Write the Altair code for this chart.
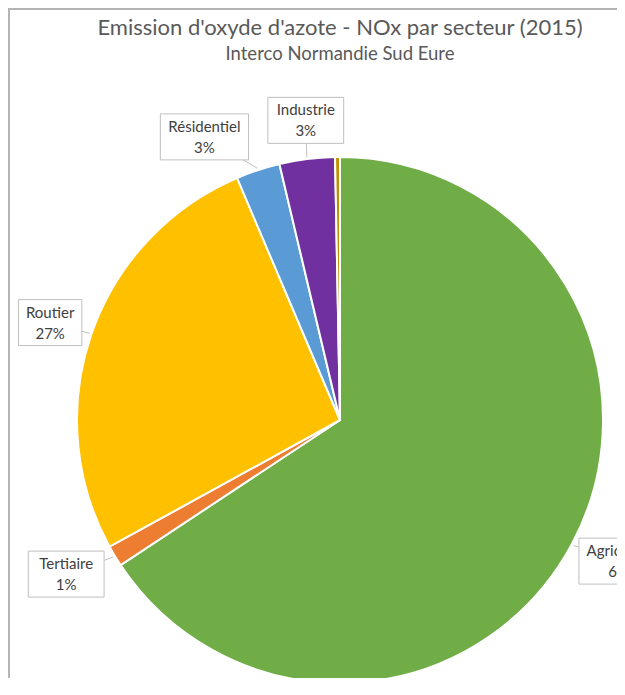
import altair as alt
import pandas as pd

# Data
secteurs = ["Agriculture", "Tertiaire", "Routier", "Résidentiel", "Industrie", "Autres transports"]
valeurs = [65.7, 1.3, 26.6, 2.7, 3.4, 0.3]
couleurs = ["#70AD47", "#ED7D31", "#FFC000", "#5B9BD5", "#7030A0", "#BF9000"]

titre = "Emission d'oxyde d'azote - NOx par secteur (2015)"
sous_titre = "Interco Normandie Sud Eure"

df = pd.DataFrame({"secteur": secteurs, "valeur": valeurs, "ordre": list(range(len(secteurs)))})

W, H = 609, 670
CX, CY, R = 332, 412, 263
FONT = "Lato"

base = alt.Chart(df)

pie = base.mark_arc(outerRadius=R, stroke="white", strokeWidth=2).encode(
    theta=alt.Theta("valeur:Q", stack=True),
    color=alt.Color("secteur:N", scale=alt.Scale(domain=secteurs, range=couleurs), legend=None),
    order=alt.Order("ordre:Q"),
    x=alt.value(CX),
    y=alt.value(CY),
)

xs = alt.Scale(domain=[0, W], nice=False, zero=False)
ys = alt.Scale(domain=[0, H], nice=False, zero=False, reverse=True)

lab = (
    base.transform_joinaggregate(total="sum(valeur)")
    .transform_window(cum="sum(valeur)", sort=[alt.SortField("ordre")], frame=[None, 0])
    .transform_calculate(
        a="(datum.cum - datum.valeur/2)/datum.total*2*PI",
        txt="datum.secteur + '\\n' + round(datum.valeur) + '%'",
        w="max(length(datum.secteur), 3)*6.2 + 20",
        h="46",
    )
    .transform_calculate(
        lx=f"{CX} + ({R}+12)*sin(datum.a) + datum.w/2*sin(datum.a) + (datum.secteur=='Résidentiel' ? -36 : 0) + (datum.secteur=='Industrie' ? 5 : 0) + (datum.secteur=='Tertiaire' ? -6 : 0) + (datum.secteur=='Agriculture' ? 2 : 0)",
        ly=f"{CY} - ({R}+12)*cos(datum.a) - datum.h/2*cos(datum.a) + (datum.secteur=='Industrie' ? -4 : 0)",
        ex=f"{CX} + ({R}+2)*sin(datum.a)",
        ey=f"{CY} - ({R}+2)*cos(datum.a)",
    )
    .transform_calculate(
        x1="datum.lx - datum.w/2", x2="datum.lx + datum.w/2",
        y1="datum.ly - datum.h/2", y2="datum.ly + datum.h/2",
    )
    .transform_filter("datum.valeur >= 0.5")
)

leader = lab.mark_rule(color="#BFBFBF", strokeWidth=1).encode(
    x=alt.X("ex:Q", scale=xs, axis=None),
    y=alt.Y("ey:Q", scale=ys, axis=None),
    x2="lx:Q",
    y2="ly:Q",
)

box = lab.mark_rect(fill="white", stroke="#BFBFBF", strokeWidth=1).encode(
    x=alt.X("x1:Q", scale=xs, axis=None),
    x2="x2:Q",
    y=alt.Y("y1:Q", scale=ys, axis=None),
    y2="y2:Q",
)

text = lab.mark_text(font=FONT, fontSize=15, color="#404040", lineBreak="\n",
                     lineHeight=21, baseline="middle", align="center", dy=-10).encode(
    x=alt.X("lx:Q", scale=xs, axis=None),
    y=alt.Y("ly:Q", scale=ys, axis=None),
    text="txt:N",
)

t1 = alt.Chart(pd.DataFrame({"t": [titre]})).mark_text(
    font=FONT, fontSize=22, color="#595959", align="center", baseline="middle"
).encode(text="t:N", x=alt.value(CX), y=alt.value(20))

t2 = alt.Chart(pd.DataFrame({"t": [sous_titre]})).mark_text(
    font=FONT, fontSize=18.5, color="#595959", align="center", baseline="middle"
).encode(text="t:N", x=alt.value(CX), y=alt.value(46))

frame_left = alt.Chart(pd.DataFrame({"k": [0]})).mark_rule(color="#B4B4B4", strokeWidth=2).encode(
    x=alt.value(1), y=alt.value(0), y2=alt.value(H))
frame_top = alt.Chart(pd.DataFrame({"k": [0]})).mark_rule(color="#B4B4B4", strokeWidth=2).encode(
    x=alt.value(0), x2=alt.value(W), y=alt.value(1))

chart = alt.layer(frame_left, frame_top, pie, leader, box, text, t1, t2).properties(
    width=W, height=H, padding=0,
    autosize=alt.AutoSizeParams(type="none"),
).configure_view(stroke=None)

chart.save("out.html", embed_options={"renderer": "svg", "actions": False})
